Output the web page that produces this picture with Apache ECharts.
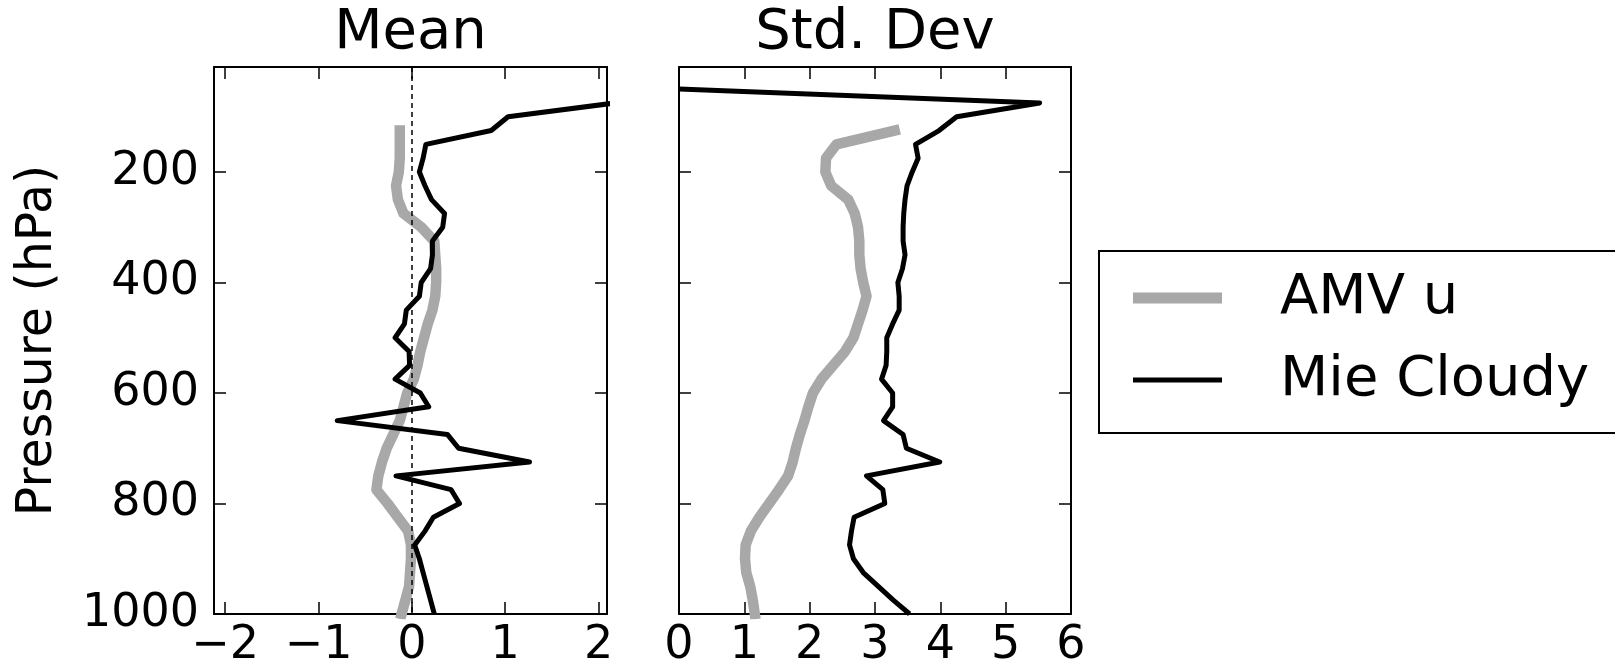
<!DOCTYPE html>
<html>
<head>
<meta charset="utf-8">
<script src="https://cdn.jsdelivr.net/npm/echarts@6/dist/echarts.min.js"></script>
<style>
  html, body { margin: 0; padding: 0; background: #fff; }
  #chart { width: 1615px; height: 669px; }
</style>
</head>
<body>
<div id="chart"></div>
<script>
// pressure levels (hPa)
const mieLevels = [50, 75, 100, 125, 150, 175, 200, 225, 250, 275, 300, 325, 350, 375, 400, 425, 450, 475, 500,
  525, 550, 575, 600, 625, 650, 675, 700, 725, 750, 775, 800, 825, 850, 875, 900, 925, 950, 975, 1000]
const amvLevels = [125, 150, 175, 200, 225, 250, 275, 300, 325, 350, 375, 400, 425, 450, 475, 500,
  525, 550, 575, 600, 625, 650, 675, 700, 725, 750, 775, 800, 825, 850, 875, 900, 925, 950, 975, 1000]

const mieMean = [3.0, 2.18, 1.03, 0.85, 0.15, 0.12, 0.08, 0.14, 0.21, 0.35, 0.33, 0.22, 0.22, 0.20, 0.10, 0.08,
  -0.06, -0.08, -0.18, -0.03, -0.025, -0.18, 0.09, 0.18, -0.80, 0.38, 0.50, 1.26, -0.17, 0.42, 0.51, 0.23,
  0.14, 0.03, 0.08, 0.12, 0.16, 0.20, 0.24]
const amvMean = [-0.13, -0.13, -0.13, -0.14, -0.17, -0.15, -0.09, 0.10, 0.24, 0.25, 0.26, 0.26, 0.25, 0.22,
  0.17, 0.13, 0.09, 0.06, 0.02, -0.05, -0.09, -0.13, -0.20, -0.27, -0.32, -0.36, -0.38, -0.26, -0.15, -0.04,
  -0.01, -0.01, -0.02, -0.03, -0.07, -0.11]

const mieStd = [0.0, 5.52, 4.25, 3.98, 3.62, 3.66, 3.57, 3.49, 3.46, 3.44, 3.43, 3.43, 3.46, 3.42, 3.35, 3.37,
  3.37, 3.27, 3.18, 3.18, 3.17, 3.10, 3.27, 3.27, 3.13, 3.43, 3.48, 3.99, 2.87, 3.12, 3.15, 2.68, 2.64, 2.61,
  2.67, 2.82, 3.05, 3.28, 3.53]
const amvStd = [3.30, 2.41, 2.25, 2.24, 2.33, 2.59, 2.69, 2.74, 2.76, 2.76, 2.78, 2.82, 2.87, 2.81, 2.74, 2.67,
  2.54, 2.36, 2.18, 2.05, 1.98, 1.92, 1.85, 1.79, 1.74, 1.67, 1.53, 1.38, 1.23, 1.10, 1.02, 1.01, 1.03, 1.09,
  1.13, 1.16]

const meanTicks = [-2, -1, 0, 1, 2]
const stdTicks = [0, 1, 2, 3, 4, 5, 6]
const pressureTicks = [200, 400, 600, 800, 1000]

const font = 'DejaVu Sans'
const grey = '#a8a8a8'

const pairs = (vals, levels) => vals.map((v, i) => [v, levels[i]])
const minus = v => String(v).replace('-', '\u2212')

function xAxis(grid, min, max, ticks, position, extra) {
  return Object.assign({
    type: 'value', gridIndex: grid, position, min, max,
    splitLine: { show: false },
    axisLine: { show: true, onZero: false, lineStyle: { color: '#000', width: 2 } },
    axisTick: { show: true, inside: true, length: 12, customValues: ticks, lineStyle: { color: '#000', width: 1.5 } },
    axisLabel: {
      show: position === 'bottom', customValues: ticks, formatter: minus, margin: 9,
      color: '#000', fontFamily: font, fontSize: 46
    }
  }, extra)
}

function yAxis(grid, position, showLabel, extra) {
  return Object.assign({
    type: 'value', gridIndex: grid, position, min: 10, max: 1000, inverse: true,
    splitLine: { show: false },
    axisLine: { show: true, onZero: false, lineStyle: { color: '#000', width: 2 } },
    axisTick: { show: true, inside: true, length: 12, customValues: pressureTicks, lineStyle: { color: '#000', width: 1.5 } },
    axisLabel: {
      show: showLabel, customValues: pressureTicks, margin: 15, formatter: v => String(v),
      color: '#000', fontFamily: font, fontSize: 46
    }
  }, extra)
}

const titleName = (text) => ({
  name: text, nameLocation: 'middle', nameGap: 6,
  nameTextStyle: { color: '#000', fontFamily: font, fontSize: 56, verticalAlign: 'bottom' }
})

const chart = echarts.init(document.getElementById('chart'))

chart.setOption({
  animation: false,
  backgroundColor: '#fff',
  grid: [
    { left: 214, top: 66, width: 393, height: 551 },
    { left: 679, top: 66, width: 392, height: 551 }
  ],
  xAxis: [
    xAxis(0, -2.12, 2.09, meanTicks, 'bottom'),
    xAxis(0, -2.12, 2.09, meanTicks, 'top', titleName('Mean')),
    xAxis(1, 0, 6, stdTicks, 'bottom'),
    xAxis(1, 0, 6, stdTicks, 'top', titleName('Std. Dev'))
  ],
  yAxis: [
    yAxis(0, 'left', true, {
      name: 'Pressure (hPa)', nameLocation: 'middle', nameGap: 151,
      nameTextStyle: { color: '#000', fontFamily: font, fontSize: 49 }
    }),
    yAxis(0, 'right', false),
    yAxis(1, 'left', false),
    yAxis(1, 'right', false)
  ],
  legend: {
    orient: 'vertical',
    left: 1099, top: 251,
    padding: [19, 600, 25, 34],
    itemWidth: 89, itemHeight: 11, itemGap: 26,
    borderColor: '#000', borderWidth: 2,
    data: [
      { name: 'AMV u', icon: 'rect', itemStyle: { color: grey } },
      // thin bar inside an 89x11 box
      { name: 'Mie Cloudy', icon: 'path://M0,0M0,3L89,3L89,8L0,8ZM89,11', itemStyle: { color: '#000' } }
    ],
    textStyle: { color: '#000', fontFamily: font, fontSize: 56, padding: [0, 0, 0, 53] }
  },
  series: [
    {
      name: 'AMV u', type: 'line', xAxisIndex: 0, yAxisIndex: 0,
      data: pairs(amvMean, amvLevels), symbol: 'none',
      itemStyle: { color: grey },
      lineStyle: { color: grey, width: 10.5, cap: 'square', join: 'round' },
      markLine: {
        silent: true, symbol: 'none', label: { show: false },
        lineStyle: { color: '#000', width: 1.5, type: [5, 4] },
        data: [{ xAxis: 0 }]
      }
    },
    {
      name: 'Mie Cloudy', type: 'line', xAxisIndex: 0, yAxisIndex: 0,
      data: pairs(mieMean, mieLevels), symbol: 'none',
      itemStyle: { color: '#000' },
      lineStyle: { color: '#000', width: 5, join: 'round' }
    },
    {
      name: 'AMV u', type: 'line', xAxisIndex: 2, yAxisIndex: 2,
      data: pairs(amvStd, amvLevels), symbol: 'none',
      itemStyle: { color: grey },
      lineStyle: { color: grey, width: 10.5, cap: 'square', join: 'round' }
    },
    {
      name: 'Mie Cloudy', type: 'line', xAxisIndex: 2, yAxisIndex: 2,
      data: pairs(mieStd, mieLevels), symbol: 'none',
      itemStyle: { color: '#000' },
      lineStyle: { color: '#000', width: 5, join: 'round' }
    }
  ]
})
</script>
</body>
</html>
